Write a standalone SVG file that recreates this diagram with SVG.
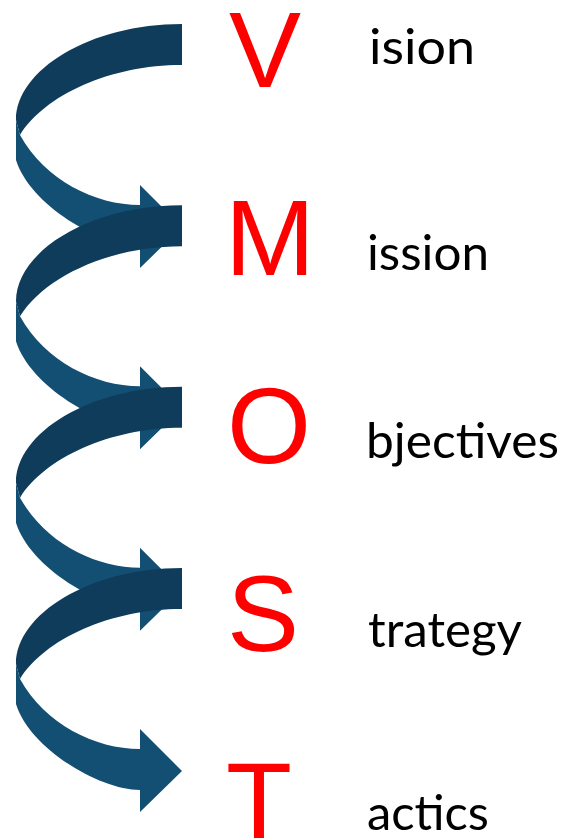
<svg xmlns="http://www.w3.org/2000/svg" width="566" height="838" viewBox="0 0 566 838">
<defs>
<style>
.dark{fill:#0e3c5a}
.light{fill:#134e73}
.big{font-family:"Liberation Sans",Arial,sans-serif;font-size:108px;fill:#ff0000}
.word{font-family:Lato,"Open Sans",sans-serif;font-size:48px;fill:#000000}
</style>
<g id="turn">
<path class="dark" d="M182,24 C90,24 16,70 16,120 L20,135 C45,95 110,65 182,65 Z"/>
<path class="light" d="M16,120 L16,160 C30,205 100,246 140,246 L140,268 L182,227 L140,185 L140,205 C95,205 45,180 20,135 Z"/>
</g>
</defs>
<rect width="566" height="838" fill="#ffffff"/>
<g id="connectors">
<use href="#turn"/>
<use href="#turn" transform="translate(0,181.3)"/>
<use href="#turn" transform="translate(0,362.7)"/>
<use href="#turn" transform="translate(0,544)"/>
</g>
<g id="node-vision">
<text class="big" x="229" y="87">V</text>
<text class="word" x="369" y="64" textLength="106" lengthAdjust="spacingAndGlyphs">ision</text>
</g>
<g id="node-mission">
<text class="big" x="225" y="275">M</text>
<text class="word" x="367" y="270" textLength="122" lengthAdjust="spacingAndGlyphs">ission</text>
</g>
<g id="node-objectives">
<text class="big" x="227" y="463">O</text>
<text class="word" x="366" y="458" textLength="193" lengthAdjust="spacingAndGlyphs">bjectives</text>
</g>
<g id="node-strategy">
<text class="big" x="227" y="651">S</text>
<text class="word" x="368" y="647" textLength="154" lengthAdjust="spacingAndGlyphs">trategy</text>
</g>
<g id="node-tactics">
<text class="big" x="226" y="838">T</text>
<text class="word" x="367" y="830" textLength="122" lengthAdjust="spacingAndGlyphs">actics</text>
</g>
</svg>
